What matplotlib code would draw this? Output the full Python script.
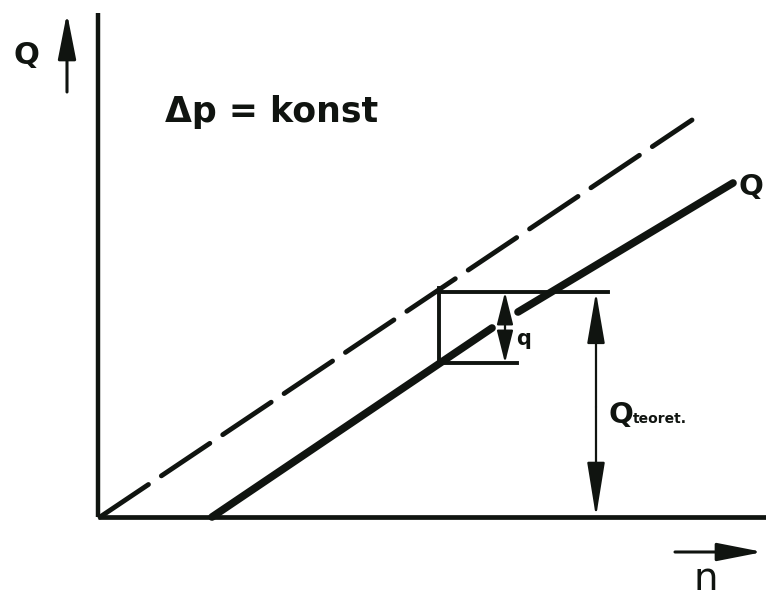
import numpy as np
import matplotlib
matplotlib.use("Agg")
import matplotlib.pyplot as plt
from matplotlib.patches import FancyArrowPatch, ArrowStyle

# --- data (n along x, Q up, origin at the axis corner) ---
dashed_n = [2, 594]
dashed_Q = [0, 397]

# real delivery curve, broken where the q arrow crosses it
solid_low_n = [114, 394]
solid_low_Q = [0, 189]
solid_high_n = [420, 635]
solid_high_Q = [205, 334]

# helper box for the leakage q
box_top_Q = 225
box_bottom_Q = 154
box_left_n = 341
box_top_right_n = 510
box_bottom_right_n = 419
q_arrow_n = 407
qteor_arrow_n = 498

ink = "#101410"

fig = plt.figure(figsize=(7.66, 5.97), dpi=100)
ax = fig.add_axes([0, 0, 1, 1])
ax.set_xlim(-98, 668)
ax.set_ylim(-80, 517)
ax.axis("off")


def arrow(x0, y0, x1, y1, style, hl, hw, lw=1.6):
    a = FancyArrowPatch((x0, y0), (x1, y1),
                        arrowstyle=ArrowStyle(style, head_length=hl, head_width=hw),
                        mutation_scale=1, lw=lw, color=ink,
                        shrinkA=0, shrinkB=0, capstyle="round", joinstyle="round")
    ax.add_patch(a)


# axes
ax.plot([0, 0], [0, 504], color=ink, lw=3.2, solid_capstyle="butt")
ax.plot([0, 680], [0, 0], color=ink, lw=3.4, solid_capstyle="butt")

# theoretical line (dashed) and real line (solid)
ax.plot(dashed_n, dashed_Q, color=ink, lw=3.5, dashes=(12, 3.2),
        dash_capstyle="round")
ax.plot(solid_low_n, solid_low_Q, color=ink, lw=5.5, solid_capstyle="round")
ax.plot(solid_high_n, solid_high_Q, color=ink, lw=5.5, solid_capstyle="round")

# box
ax.plot([box_left_n, box_top_right_n], [box_top_Q, box_top_Q], color=ink, lw=2.8)
ax.plot([box_left_n, box_left_n], [box_bottom_Q, box_top_Q + 4], color=ink, lw=2.8)
ax.plot([box_left_n, box_bottom_right_n], [box_bottom_Q, box_bottom_Q], color=ink, lw=2.8)

# q and Q_teoret arrows
arrow(q_arrow_n, (box_top_Q + box_bottom_Q) / 2, q_arrow_n, box_top_Q, "-|>", 20, 5)
arrow(q_arrow_n, (box_top_Q + box_bottom_Q) / 2, q_arrow_n, box_bottom_Q, "-|>", 20, 5)
arrow(qteor_arrow_n, 110, qteor_arrow_n, box_top_Q, "-|>", 32, 5.5)
arrow(qteor_arrow_n, 110, qteor_arrow_n, 0, "-|>", 34, 5.5)

# axis direction arrows
arrow(-31, 425, -31, 504, "-|>", 28, 5.5, lw=2.2)
arrow(577, -35, 665, -35, "-|>", 28, 5.5, lw=2.2)

# labels
ax.text(-72, 462, "Q", fontsize=22, fontweight="bold", color=ink,
        ha="center", va="center")
ax.text(608, -62, "n", fontsize=28, color=ink, ha="center", va="center")
ax.text(67, 405, "Δp = konst", fontsize=25, fontweight="bold", color=ink,
        ha="left", va="center")
ax.text(653, 330, "Q", fontsize=21, fontweight="bold", color=ink,
        ha="center", va="center")
ax.text(426, 178, "q", fontsize=15, fontweight="bold", color=ink,
        ha="center", va="center")
ax.text(510, 94, "Q", fontsize=21, fontweight="bold", color=ink,
        ha="left", va="baseline")
ax.text(535, 94, "teoret.", fontsize=10, fontweight="bold", color=ink,
        ha="left", va="baseline")

fig.savefig("out.png", dpi=100, facecolor="white")
